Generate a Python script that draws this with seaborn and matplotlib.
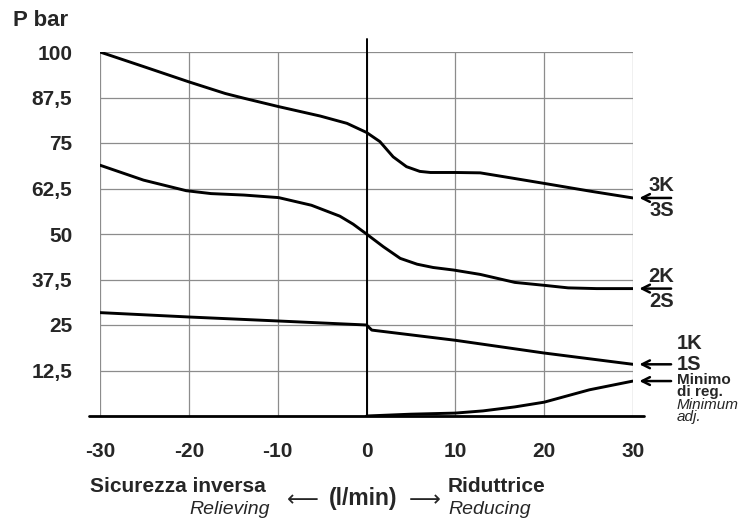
import matplotlib
matplotlib.use("Agg")
import numpy as np
import pandas as pd
import seaborn as sns
import matplotlib.pyplot as plt

# flow (l/min) and pressure (bar)
x_3k = [-30, -25.1, -20, -15.9, -13.8, -9.9, -5.2, -2.2, 0, 1.5, 3.0, 4.5, 6.0, 7.2, 10, 12.8, 16.3, 20, 25.1, 30]
y_3k = [100, 96, 91.8, 88.6, 87.3, 85, 82.4, 80.4, 77.9, 75.4, 71.2, 68.5, 67.2, 66.9, 66.9, 66.8, 65.4, 63.9, 61.8, 59.9]

x_2k = [-30, -25.1, -20.3, -17.5, -13.8, -9.9, -6.2, -3.0, -1.5, 0, 1.9, 3.8, 5.7, 7.5, 9.8, 12.8, 16.7, 20, 22.7, 25.9, 30]
y_2k = [68.9, 64.8, 61.9, 61.1, 60.7, 60.0, 57.9, 54.9, 52.7, 50.0, 46.5, 43.3, 41.7, 40.8, 40.1, 38.9, 36.7, 35.9, 35.2, 35.0, 35.0]

x_1k = [-30, -20, -9.9, 0, 0.6, 10, 20, 30]
y_1k = [28.4, 27.2, 26.1, 25.0, 23.6, 20.8, 17.3, 14.2]

x_min = [0, 5, 10, 13.1, 16.7, 20, 25.1, 30]
y_min = [0, 0.5, 0.8, 1.4, 2.5, 3.8, 7.2, 9.6]

x_ticks = [-30, -20, -10, 0, 10, 20, 30]
y_ticks = [0, 12.5, 25, 37.5, 50, 62.5, 75, 87.5, 100]
y_labels = ["", "12,5", "25", "37,5", "50", "62,5", "75", "87,5", "100"]

sns.set_style("white")
plt.rcParams["font.family"] = ["Liberation Sans", "DejaVu Sans"]

W, H = 743, 520
fig = plt.figure(figsize=(W / 100, H / 100), dpi=100)
ax = fig.add_axes([100 / W, 1 - 416 / H, 533 / W, 364 / H])

curves = [(x_3k, y_3k), (x_2k, y_2k), (x_1k, y_1k), (x_min, y_min)]
for xs, ys in curves:
    sns.lineplot(x=xs, y=ys, ax=ax, color="black", linewidth=2.1,
                 sort=False, estimator=None)

ax.set_xlim(-30, 30)
ax.set_ylim(0, 100)
ax.set_xticks(x_ticks)
ax.set_xticklabels([str(v) for v in x_ticks], fontsize=15, fontweight="bold")
ax.set_yticks(y_ticks)
ax.set_yticklabels(y_labels, fontsize=15, fontweight="bold")
ax.tick_params(axis="y", length=0, pad=20)
ax.tick_params(axis="x", length=0, pad=19)
ax.grid(True, color="#8c8c8c", linewidth=0.9)
for s in ax.spines.values():
    s.set_visible(False)
ax.set_xlabel("")
ax.set_ylabel("")

# baseline and centre line
ax.plot([-31.2, 31.2], [0, 0], color="black", linewidth=2.0, clip_on=False)
ax.plot([0, 0], [0, 103.5], color="black", linewidth=1.4, clip_on=False)

def fx(px):
    return px / W

def fy(py):
    return 1 - py / H

fig.text(fx(13), fy(20), "P bar", fontsize=16, fontweight="bold", va="center", ha="left")

# right-hand curve labels
arrow_kw = dict(arrowstyle="->", color="black", lw=1.8, mutation_scale=14)
tail_x = 34.6
for ys in (y_3k, y_2k, y_1k, y_min):
    ax.annotate("", xy=(30.4, ys[-1]), xytext=(tail_x, ys[-1]),
                arrowprops=arrow_kw, annotation_clip=False)

for ys, top, bot in ((y_3k, "3K", "3S"), (y_2k, "2K", "2S")):
    ax.annotate(top, xy=(33.2, ys[-1]), xytext=(0, 2), textcoords="offset points",
                ha="center", va="bottom", fontsize=14.5, fontweight="bold",
                annotation_clip=False)
    ax.annotate(bot, xy=(33.2, ys[-1]), xytext=(0, -2.5), textcoords="offset points",
                ha="center", va="top", fontsize=14.5, fontweight="bold",
                annotation_clip=False)

ax.annotate("1S", xy=(tail_x, y_1k[-1]), xytext=(2, 0), textcoords="offset points",
            ha="left", va="center", fontsize=14.5, fontweight="bold", annotation_clip=False)
ax.annotate("1K", xy=(tail_x, y_1k[-1]), xytext=(2, 15), textcoords="offset points",
            ha="left", va="center", fontsize=14.5, fontweight="bold", annotation_clip=False)

ax.annotate("Minimo\ndi reg.", xy=(tail_x, y_min[-1]), xytext=(2, 5.5), textcoords="offset points",
            ha="left", va="top", fontsize=11, fontweight="bold", linespacing=0.8,
            annotation_clip=False)
ax.annotate("Minimum\nadj.", xy=(tail_x, y_min[-1]), xytext=(2, -12.5), textcoords="offset points",
            ha="left", va="top", fontsize=11, style="italic", linespacing=0.8,
            annotation_clip=False)

# bottom captions
fig.text(fx(90), fy(487), "Sicurezza inversa", fontsize=15, fontweight="bold", ha="left", va="center")
fig.text(fx(270), fy(510), "Relieving", fontsize=14, style="italic", ha="right", va="center")
fig.text(fx(448), fy(487), "Riduttrice", fontsize=15, fontweight="bold", ha="left", va="center")
fig.text(fx(448), fy(510), "Reducing", fontsize=14, style="italic", ha="left", va="center")
fig.text(fx(363), fy(498), "(l/min)", fontsize=16.5, fontweight="bold", ha="center", va="center")
fig.text(fx(303), fy(500), "\u27f5", fontsize=16, ha="center", va="center", family="DejaVu Sans")
fig.text(fx(425), fy(500), "\u27f6", fontsize=16, ha="center", va="center", family="DejaVu Sans")

fig.savefig("out.png", dpi=100)
